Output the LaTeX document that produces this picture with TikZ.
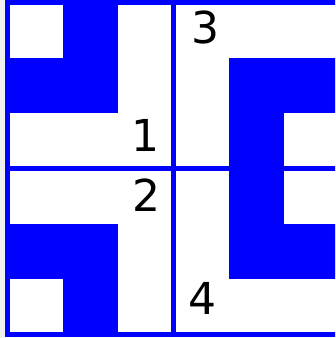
\documentclass[tikz,border=0pt]{standalone}
\usepackage{fontspec}
\setmainfont{DejaVu Sans}
\begin{document}
\begin{tikzpicture}[x=55.33pt,y=-55.33pt,
  tile/.style={fill=blue},
  frame/.style={draw=blue, line width=5pt},
  num/.style={font=\fontsize{44}{44}\selectfont, inner sep=0pt}]
  \useasboundingbox (-0.1356,-0.0452) rectangle (5.9193,6.0633);
  \clip (-0.1356,-0.0452) rectangle (5.9193,6.0633);
  \fill[black!6] (-0.1356,-0.0452) rectangle (-0.0452,6.0633);
  % blue squares of the four tiles
  \foreach \c/\r in {1/0,0/1,1/1, 0/4,1/4,1/5, 4/1,5/1,4/2, 4/3,4/4,5/4}
    \fill[tile] (\c,\r) rectangle ++(1,1);
  % tile borders
  \draw[frame] (0,0) rectangle (6,6);
  \draw[frame] (3,0) -- (3,6);
  \draw[frame] (0,3) -- (6,3);
  % tile numbers
  \node[num] (n1) at (2.50,2.40) {1};
  \node[num] (n2) at (2.51,3.48) {2};
  \node[num] (n3) at (3.58,0.46) {3};
  \node[num] (n4) at (3.52,5.35) {4};
\end{tikzpicture}
\end{document}
